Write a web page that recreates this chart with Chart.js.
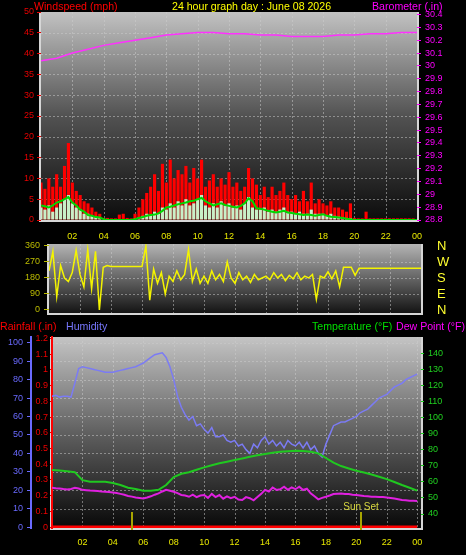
<!DOCTYPE html>
<html>
<head>
<meta charset="utf-8">
<script src="https://cdn.jsdelivr.net/npm/chart.js@4.4.1/dist/chart.umd.min.js"></script>
<style>
  body { margin: 0; background: #000; width: 466px; height: 555px; overflow: hidden; position: relative;
         font-family: "Liberation Sans", Arial, sans-serif; }
  canvas { position: absolute; left: 0; }
  .t { position: absolute; font-size: 10.6px; line-height: 12px; white-space: nowrap; }
</style>
</head>
<body>
<canvas id="windChart" width="466" height="240" style="top:0"></canvas>
<canvas id="dirChart" width="466" height="80" style="top:240px"></canvas>
<canvas id="climateChart" width="466" height="235" style="top:320px"></canvas>

<div class="t" style="left:34px;top:0;color:#ff0000">Windspeed (mph)</div>
<div class="t" style="left:172px;top:0;color:#ffff00">24 hour graph day : June 08 2026</div>
<div class="t" style="left:372px;top:0;color:#ff00ff">Barometer (.in)</div>
<div class="t" style="left:0;top:320px;color:#ff0000">Rainfall (.in)</div>
<div class="t" style="left:66px;top:320px;color:#7878ff">Humidity</div>
<div class="t" style="left:312px;top:320px;color:#00e000">Temperature (°F)</div>
<div class="t" style="left:396px;top:320px;color:#ff00ff">Dew Point (°F)</div>

<script>
// x axis
const hourTicks = [2, 4, 6, 8, 10, 12, 14, 16, 18, 20, 22, 24];
const hourLabels = ['02', '04', '06', '08', '10', '12', '14', '16', '18', '20', '22', '00'];

// axis ticks
const windTicks = [0, 5, 10, 15, 20, 25, 30, 35, 40, 45, 50];
const baroTicks = [28.8, 28.9, 29.0, 29.1, 29.2, 29.3, 29.4, 29.5, 29.6, 29.7, 29.8, 29.9, 30.0, 30.1, 30.2, 30.3, 30.4];
const dirTicks = [0, 90, 180, 270, 360];
const compassLabels = ['N', 'E', 'S', 'W', 'N'];
const humidityTicks = [0, 10, 20, 30, 40, 50, 60, 70, 80, 90, 100];
const rainTicks = [0, 0.1, 0.2, 0.3, 0.4, 0.5, 0.6, 0.7, 0.8, 0.9, 1.0, 1.1, 1.2];
const tempTicks = [40, 50, 60, 70, 80, 90, 100, 110, 120, 130, 140];

// wind, every 15 minutes (mph)
const windGust = [
  9, 7.5, 10, 8, 11, 8, 13, 18.5, 9, 7, 6, 4.5, 4, 3, 2, 1.5,
  0.5, 0.5, 0.4, 0.4, 1.3, 1.5, 0.5, 0.4,
  1.5, 3, 5, 6.5, 8, 11, 7, 13.5, 9, 14.5, 10, 12, 11, 13, 9, 12.5,
  10, 14.5, 8, 9.5, 11, 8, 10, 8.5, 11.5, 8, 9, 7, 8, 12.5, 10, 8.5,
  6, 8, 5.5, 8, 6, 7, 9, 6, 5, 6, 4.5, 7, 4.5, 9, 4, 5,
  4, 3.5, 4.5, 3, 3, 2.5, 2, 4, 0.5, 0.4, 0.4, 2,
  0.4, 0.4, 0.4, 0.4, 0.4, 0.4, 0.4, 0.4, 0.4, 0.4, 0.4, 0.4
];
const windSpeed = [
  3, 2.5, 3.5, 2, 3, 4, 5, 6, 4, 3, 2.5, 1.5, 1.5, 1, 0.8, 0.5,
  0, 0, 0, 0, 0, 0, 0, 0,
  0.3, 0.6, 1, 1.5, 1.2, 2, 1.5, 3, 2.5, 4, 3, 4.5, 3.5, 5, 3.5, 4,
  5, 6, 3.5, 3, 4, 3, 4.5, 3.5, 4, 3, 3.5, 2.5, 4, 5.5, 3, 2.5,
  2.5, 3, 2, 2.5, 2, 2.5, 3, 2, 2, 1.5, 2, 1.5, 1.5, 2.5, 1.5, 1.5,
  1.5, 1, 1.5, 1, 0.8, 0.6, 0.5, 0.4,
  0, 0, 0, 0, 0, 0, 0, 0, 0, 0, 0, 0, 0, 0, 0, 0
];
const windAvg = [
  3.5, 3.3, 3, 3.5, 4.2, 4.5, 5, 5.5, 4.2, 3.5, 2.5, 2, 1.2, 1, 0.7, 0.6,
  0.2, 0, 0, 0, 0, 0, 0, 0,
  0.2, 0.5, 0.7, 1, 1.2, 1.3, 1.6, 2.2, 3, 3.2, 3.5, 3.8, 4, 4.2, 4.5, 4.6,
  5, 5.3, 4.5, 4, 3.5, 3.8, 4, 3.6, 3.4, 3.2, 3, 3.4, 4, 5.2, 4.5, 2.8,
  2.7, 2.5, 2.2, 2, 1.8, 2, 2.2, 1.8, 1.7, 1.5, 1.4, 1.2, 1.3, 1.2, 1, 1.2,
  1.4, 1, 0.8, 0.7, 0.6, 0.5, 0.3, 0.2,
  0, 0, 0, 0, 0, 0, 0, 0, 0, 0, 0, 0, 0, 0, 0, 0, 0
];
// wind direction, every 15 minutes (degrees)
const windDir = [
  220, 330, 75, 250, 180, 160, 210, 335, 200, 130, 340, 120, 330, 0, 240, 250,
  245, 245, 245, 245, 245, 245, 245, 245,
  245, 360, 55, 230, 150, 210, 90, 190, 160, 220, 170, 200, 340, 160, 230, 150,
  190, 150, 220, 170, 200, 160, 270, 180, 150, 210, 170, 190, 155, 200, 170, 180,
  190, 170, 210, 180, 200, 165, 195, 175, 210, 170, 190, 180, 200, 60, 190, 180,
  215, 175, 220, 130, 240, 240, 240, 195,
  235, 235, 235, 235, 235, 235, 235, 235, 235, 235, 235, 235, 235, 235, 235, 235, 235
];
// barometer, hourly (in)
const barometer = [30.04, 30.06, 30.10, 30.13, 30.16, 30.18, 30.20, 30.22, 30.24, 30.25, 30.26, 30.26, 30.25,
  30.25, 30.24, 30.24, 30.23, 30.23, 30.23, 30.24, 30.24, 30.25, 30.25, 30.26, 30.26];

// humidity (%) and dew point (F), every 15 minutes
const humidity = [
  71, 71.5, 70.5, 71, 71, 70.5, 78, 86, 87, 86.5, 86, 85.5, 85, 84.5, 84, 84,
  84, 84.5, 85, 85.5, 86, 86.5, 87, 88, 89, 90.5, 92, 93.5, 94, 94.5, 92, 87,
  80, 71, 65, 61, 58, 60, 55, 56, 53, 51, 54, 49, 49, 50, 47, 46,
  47, 44, 45, 42, 40, 45, 43, 47, 49, 45, 47, 44, 46, 43, 47, 45,
  44, 46, 43, 46, 42, 44, 40, 38, 45, 50, 55, 56, 57, 57, 58, 59,
  60, 62, 63, 64, 66, 68, 70, 71, 72, 74, 76, 77, 78, 80, 81, 82, 83
];
const dewPoint = [
  56.3, 56, 55.8, 55.5, 55.3, 55.6, 56.3, 55.8, 55, 54.8, 54.6, 54.5, 54.3, 54, 53.8, 53.6,
  53.3, 53, 52.5, 52, 51.2, 50.8, 50.3, 50, 49.7, 50.3, 51, 52, 52.8, 54, 55, 54.5,
  53.8, 53, 51.8, 51.5, 50.7, 52, 50.5, 51.5, 51.8, 50, 52.5, 50.5, 51.8, 49.5, 51, 49.8,
  50.7, 49, 48.7, 50.5, 49.8, 48.5, 50.5, 52.5, 55, 54, 56.5, 55, 55.4, 57, 55, 56.5,
  55.4, 57, 54.9, 55.8, 52.8, 51, 49.1, 50, 50.7, 51.5, 52.4, 52.6, 52.8, 52.5, 52.4, 52,
  51.8, 51.5, 51.2, 51, 50.7, 50.7, 50.6, 50.5, 50.3, 50, 49.6, 49.2, 48.7, 48.5, 48.3, 48.2, 48.1
];
// temperature, every 30 minutes (F)
const temperature = [
  67.3, 67, 66.5, 66, 61, 60, 60, 60, 59.3, 58, 56.3, 55.5, 54.5, 54.5, 55, 58,
  63, 65, 66, 67.5, 69, 70.3, 71.5, 72.5, 73.5, 74.5, 75.6, 76.5, 77.3, 78, 78.7, 79,
  79.3, 79.2, 78.7, 77.7, 74.8, 71.9, 69.8, 68.3, 66.9, 65.8, 64.6, 63.2, 61.7, 59.9, 58, 56.3, 54.5
];
// rainfall, hourly (in)
const rainfall = [0, 0, 0, 0, 0, 0, 0, 0, 0, 0, 0, 0, 0, 0, 0, 0, 0, 0, 0, 0, 0, 0, 0, 0, 0];

// sunrise / sunset markers (hour)
const sunTimes = [5.25, 20.3];
const sunLabels = ['', 'Sun Set'];

const pts = (values, step) => values.map((v, i) => ({ x: i * step, y: v }));

Chart.defaults.font.family = '"Liberation Sans", Arial, sans-serif';
Chart.defaults.font.size = 9;
Chart.defaults.animation = false;
Chart.defaults.plugins.legend.display = false;
Chart.defaults.plugins.tooltip.enabled = false;
Chart.defaults.elements.point.radius = 0;
Chart.defaults.elements.line.tension = 0;

const fixedTicks = values => scale => { scale.ticks = values.map(v => ({ value: v })); };
const fixedWidth = w => scale => {
  scale.width = w;
  scale.paddingTop = 0;
  scale.paddingBottom = 0;
};
const fixedHeight = h => scale => {
  scale.height = h;
  scale.paddingLeft = 0;
  scale.paddingRight = 0;
};
const trimNum = v => String(+v.toFixed(1));

function axis(opts) {
  return {
    position: opts.position,
    min: opts.min,
    max: opts.max,
    weight: opts.weight || 0,
    afterBuildTicks: fixedTicks(opts.ticks),
    afterFit: fixedWidth(opts.width),
    ticks: { color: opts.color, padding: opts.padding, autoSkip: false, callback: opts.format || trimNum,
             font: { size: opts.fontSize || 9 } },
    grid: { drawOnChartArea: false, color: opts.tickColor || opts.color, tickLength: opts.tickLength,
            drawTicks: opts.tickLength > 0 },
    border: opts.border || { display: false }
  };
}

function hourAxis(min, max, height, padding, display) {
  return {
    type: 'linear', min: min, max: max, offset: false, display: display,
    afterBuildTicks: fixedTicks(hourTicks),
    afterFit: fixedHeight(height),
    ticks: { color: '#e8e800', padding: padding, autoSkip: false, maxRotation: 0, font: { size: 9 },
             callback: v => hourLabels[hourTicks.indexOf(v)] },
    grid: { drawOnChartArea: false, drawTicks: false, offset: false },
    border: { display: false }
  };
}

function panel(shade, gridX, gridY) {
  return {
    id: 'panel',
    beforeDraw(chart) {
      const { ctx, chartArea: a, scales } = chart;
      ctx.save();
      const g = ctx.createLinearGradient(0, a.top, 0, a.bottom);
      shade.forEach(s => g.addColorStop(s[0], s[1]));
      ctx.fillStyle = g;
      ctx.fillRect(a.left, a.top, a.width, a.height);

      ctx.strokeStyle = 'rgba(205,205,205,0.5)';
      ctx.lineWidth = 1;
      ctx.setLineDash([2, 2]);
      ctx.beginPath();
      gridX.values.forEach(v => {
        const x = Math.round(scales[gridX.axis].getPixelForValue(v)) + 0.5;
        ctx.moveTo(x, a.top); ctx.lineTo(x, a.bottom);
      });
      gridY.values.forEach(v => {
        const y = Math.round(scales[gridY.axis].getPixelForValue(v)) + 0.5;
        ctx.moveTo(a.left, y); ctx.lineTo(a.right, y);
      });
      ctx.stroke();
      ctx.setLineDash([]);

      ctx.strokeStyle = '#d6d6d6';
      ctx.lineWidth = 2;
      ctx.beginPath();
      ctx.moveTo(a.left - 1, a.top);
      ctx.lineTo(a.left - 1, a.bottom + 1);
      ctx.lineTo(a.right + 1, a.bottom + 1);
      ctx.lineTo(a.right + 1, a.top);
      ctx.stroke();
      ctx.restore();
    }
  };
}

const sunMarkers = {
  id: 'sunMarkers',
  afterDatasetsDraw(chart) {
    const { ctx, chartArea: a, scales: { x } } = chart;
    ctx.save();
    ctx.strokeStyle = '#a8a400';
    ctx.lineWidth = 2;
    ctx.fillStyle = '#d8d840';
    ctx.font = '10px "Liberation Sans", Arial, sans-serif';
    ctx.textAlign = 'center';
    sunTimes.forEach((t, i) => {
      const px = Math.round(x.getPixelForValue(t));
      ctx.beginPath();
      ctx.moveTo(px, a.bottom + 2);
      ctx.lineTo(px, a.bottom - 16);
      ctx.stroke();
      if (sunLabels[i]) ctx.fillText(sunLabels[i], px, a.bottom - 18);
    });
    ctx.restore();
  }
};

// wind speed + barometer
new Chart(document.getElementById('windChart'), {
  data: {
    datasets: [
      { type: 'line', data: pts(barometer, 1), yAxisID: 'baro', borderColor: '#ff30ff', borderWidth: 1.5, order: 0 },
      { type: 'line', data: pts(windAvg, 0.25), yAxisID: 'wind', borderColor: '#00d800', borderWidth: 2, order: 1 },
      { type: 'bar', data: pts(windSpeed, 0.25), yAxisID: 'wind', backgroundColor: '#c8f0c8', grouped: false,
        barPercentage: 0.8, categoryPercentage: 1, order: 2 },
      { type: 'bar', data: pts(windGust, 0.25), yAxisID: 'wind', backgroundColor: '#ff0000', grouped: false,
        barPercentage: 0.8, categoryPercentage: 1, order: 3 }
    ]
  },
  options: {
    responsive: false,
    devicePixelRatio: 1,
    layout: { padding: { top: 12, left: 0, right: 0, bottom: 0 } },
    scales: {
      x: hourAxis(0, 24, 20, 11, true),
      wind: axis({ position: 'left', min: 0, max: 50, ticks: windTicks, width: 41, color: '#e80000',
                   padding: 3, tickLength: 4 }),
      baro: axis({ position: 'right', min: 28.8, max: 30.42, ticks: baroTicks, width: 49, color: '#ff00ff',
                   padding: 4, tickLength: 4 })
    }
  },
  plugins: [panel([[0, '#c2c2c2'], [0.5, '#525252'], [1, '#0c0c0c']],
                  { axis: 'x', values: [2, 4, 6, 8, 10, 12, 14, 16, 18, 20, 22] },
                  { axis: 'wind', values: [5, 10, 15, 20, 25, 30, 35, 40, 45] })]
});

// wind direction
new Chart(document.getElementById('dirChart'), {
  type: 'line',
  data: {
    datasets: [
      { data: pts(windDir, 0.25), yAxisID: 'dir', borderColor: '#f4f400', borderWidth: 1.5 }
    ]
  },
  options: {
    responsive: false,
    devicePixelRatio: 1,
    layout: { padding: { top: 4, bottom: 7, left: 0, right: 0 } },
    scales: {
      x: hourAxis(0, 24, 0, 0, false),
      dir: axis({ position: 'left', min: -17, max: 371, ticks: dirTicks, width: 49, color: '#bcbc00',
                  padding: 4, tickLength: 5, format: v => String(v) }),
      compass: axis({ position: 'right', min: -17, max: 371, ticks: dirTicks, width: 45, color: '#ffff30',
                      padding: 16, tickLength: 0, fontSize: 13,
                      format: (v, i) => compassLabels[i] })
    }
  },
  plugins: [panel([[0, '#b4b4b4'], [1, '#141414']],
                  { axis: 'x', values: [2, 4, 6, 8, 10, 12, 14, 16, 18, 20, 22] },
                  { axis: 'dir', values: [90, 180, 270] })]
});

// rainfall, humidity, temperature, dew point
new Chart(document.getElementById('climateChart'), {
  type: 'line',
  data: {
    datasets: [
      { data: pts(humidity, 0.25), yAxisID: 'humidity', borderColor: '#7b7bf4', borderWidth: 1.5, order: 3 },
      { data: pts(temperature, 0.5), yAxisID: 'temp', borderColor: '#20c820', borderWidth: 2, order: 2 },
      { data: pts(dewPoint, 0.25), yAxisID: 'temp', borderColor: '#e020e0', borderWidth: 2, order: 1 },
      { data: pts(rainfall, 1), yAxisID: 'rain', borderColor: '#ff0000', borderWidth: 3, order: 0 }
    ]
  },
  options: {
    responsive: false,
    devicePixelRatio: 1,
    layout: { padding: { top: 17, left: 0, right: 0, bottom: 0 } },
    scales: {
      x: hourAxis(0, 24.25, 27, 9, true),
      humidity: axis({ position: 'left', weight: 1, min: -0.5, max: 103.1, ticks: humidityTicks, width: 31,
                       color: '#6a6aff', padding: 4, tickLength: 4, format: v => String(v),
                       border: { display: true, color: '#6a6aff', width: 2 } }),
      rain: axis({ position: 'left', weight: 0, min: -0.006, max: 1.21, ticks: rainTicks, width: 21,
                   color: '#ee0000', padding: 2, tickLength: 2,
                   border: { display: true, color: '#ff0000', width: 2, dash: [2, 2] } }),
      temp: axis({ position: 'right', min: 31.3, max: 150, ticks: tempTicks, width: 45, color: '#20d020',
                   padding: 4, tickLength: 3, format: v => String(v) })
    }
  },
  plugins: [panel([[0, '#c4c4c4'], [0.5, '#606060'], [1, '#080808']],
                  { axis: 'x', values: [2, 4, 6, 8, 10, 12, 14, 16, 18, 20, 22, 24] },
                  { axis: 'humidity', values: [10, 20, 30, 40, 50, 60, 70, 80, 90, 100] }),
            sunMarkers]
});
</script>
</body>
</html>
